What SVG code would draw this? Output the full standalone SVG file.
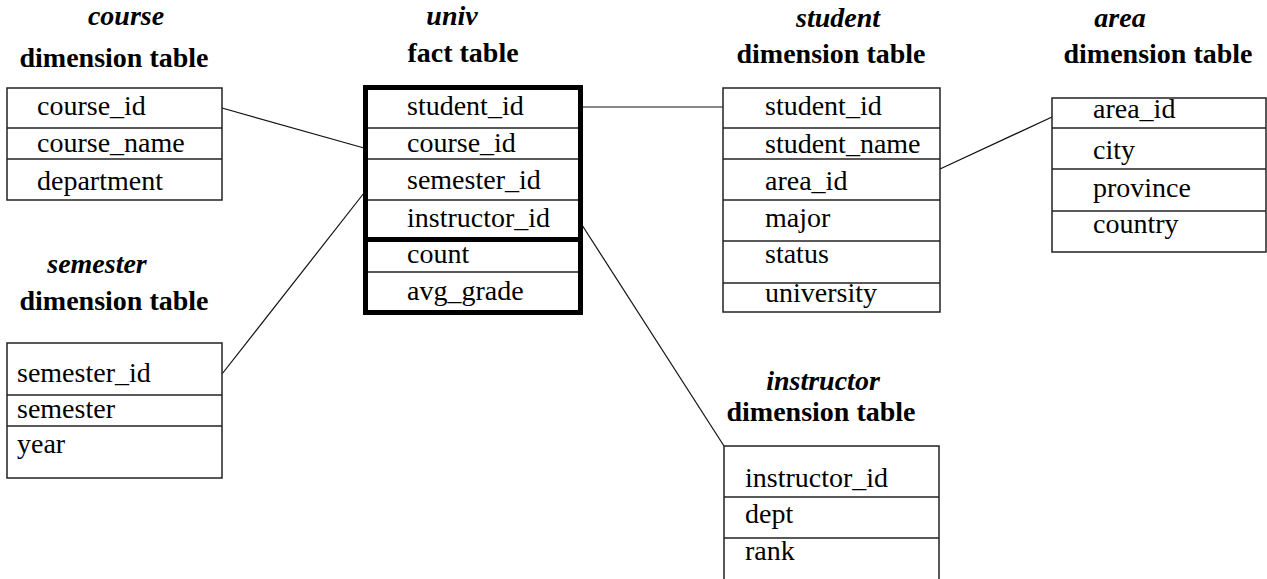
<svg xmlns="http://www.w3.org/2000/svg" width="1267" height="579" viewBox="0 0 1267 579">
<style>
text{font-family:"Liberation Serif","Times New Roman","DejaVu Serif",serif;font-size:28px;fill:#000}
.t1{font-weight:bold;font-style:italic;text-anchor:middle}
.t2{font-weight:bold;text-anchor:middle}
.box{fill:#fff;stroke:#222;stroke-width:1.5}
.row{stroke:#222;stroke-width:1.3}
.fact{fill:#fff;stroke:#000;stroke-width:5}
.sep{stroke:#000;stroke-width:5}
.con{stroke:#111;stroke-width:1.2;fill:none}
</style>
<rect width="1267" height="579" fill="#fff"/>
<g id="connectors">
<line class="con" x1="222" y1="108" x2="364" y2="148"/>
<line class="con" x1="222" y1="374" x2="364" y2="193"/>
<line class="con" x1="582" y1="107" x2="723" y2="107"/>
<line class="con" x1="582" y1="225" x2="724" y2="446"/>
<line class="con" x1="940" y1="169" x2="1052" y2="117"/>
</g>
<g id="course">
<text class="t1" x="126" y="25">course</text>
<text class="t2" x="114" y="67">dimension table</text>
<rect class="box" x="7" y="88" width="215" height="112"/>
<line class="row" x1="7" y1="128" x2="222" y2="128"/>
<line class="row" x1="7" y1="159" x2="222" y2="159"/>
<text x="37" y="115">course_id</text>
<text x="37" y="152">course_name</text>
<text x="37" y="190">department</text>
</g>
<g id="semester">
<text class="t1" x="97" y="273">semester</text>
<text class="t2" x="114" y="310">dimension table</text>
<rect class="box" x="7" y="343" width="215" height="135"/>
<line class="row" x1="7" y1="395" x2="222" y2="395"/>
<line class="row" x1="7" y1="426" x2="222" y2="426"/>
<text x="17" y="382">semester_id</text>
<text x="17" y="418">semester</text>
<text x="17" y="453">year</text>
</g>
<g id="univ">
<text class="t1" x="452" y="25">univ</text>
<text class="t2" x="463" y="62">fact table</text>
<rect class="fact" x="365.5" y="87.5" width="215" height="225"/>
<line class="row" x1="368" y1="128" x2="578" y2="128"/>
<line class="row" x1="368" y1="159" x2="578" y2="159"/>
<line class="row" x1="368" y1="200" x2="578" y2="200"/>
<line class="sep" x1="368" y1="239.5" x2="578" y2="239.5"/>
<line class="row" x1="368" y1="272" x2="578" y2="272"/>
<text x="407" y="115">student_id</text>
<text x="407" y="152">course_id</text>
<text x="407" y="189">semester_id</text>
<text x="407" y="227">instructor_id</text>
<text x="407" y="263">count</text>
<text x="407" y="300">avg_grade</text>
</g>
<g id="student">
<text class="t1" x="838" y="27">student</text>
<text class="t2" x="831" y="63">dimension table</text>
<rect class="box" x="723" y="88" width="217" height="224"/>
<line class="row" x1="723" y1="128" x2="940" y2="128"/>
<line class="row" x1="723" y1="159" x2="940" y2="159"/>
<line class="row" x1="723" y1="200" x2="940" y2="200"/>
<line class="row" x1="723" y1="241" x2="940" y2="241"/>
<line class="row" x1="723" y1="283" x2="940" y2="283"/>
<text x="765" y="115">student_id</text>
<text x="765" y="153">student_name</text>
<text x="765" y="190">area_id</text>
<text x="765" y="227">major</text>
<text x="765" y="263">status</text>
<text x="765" y="302">university</text>
</g>
<g id="area">
<text class="t1" x="1120" y="27">area</text>
<text class="t2" x="1158" y="63">dimension table</text>
<rect class="box" x="1052" y="98" width="214" height="154"/>
<line class="row" x1="1052" y1="128" x2="1266" y2="128"/>
<line class="row" x1="1052" y1="169" x2="1266" y2="169"/>
<line class="row" x1="1052" y1="211" x2="1266" y2="211"/>
<text x="1093" y="118">area_id</text>
<text x="1093" y="159">city</text>
<text x="1093" y="197">province</text>
<text x="1093" y="233">country</text>
</g>
<g id="instructor">
<text class="t1" x="823" y="390">instructor</text>
<text class="t2" x="821" y="421">dimension table</text>
<rect class="box" x="724" y="446" width="215" height="145"/>
<line class="row" x1="724" y1="497" x2="939" y2="497"/>
<line class="row" x1="724" y1="538" x2="939" y2="538"/>
<text x="745" y="487">instructor_id</text>
<text x="745" y="523">dept</text>
<text x="745" y="560">rank</text>
</g>
</svg>
